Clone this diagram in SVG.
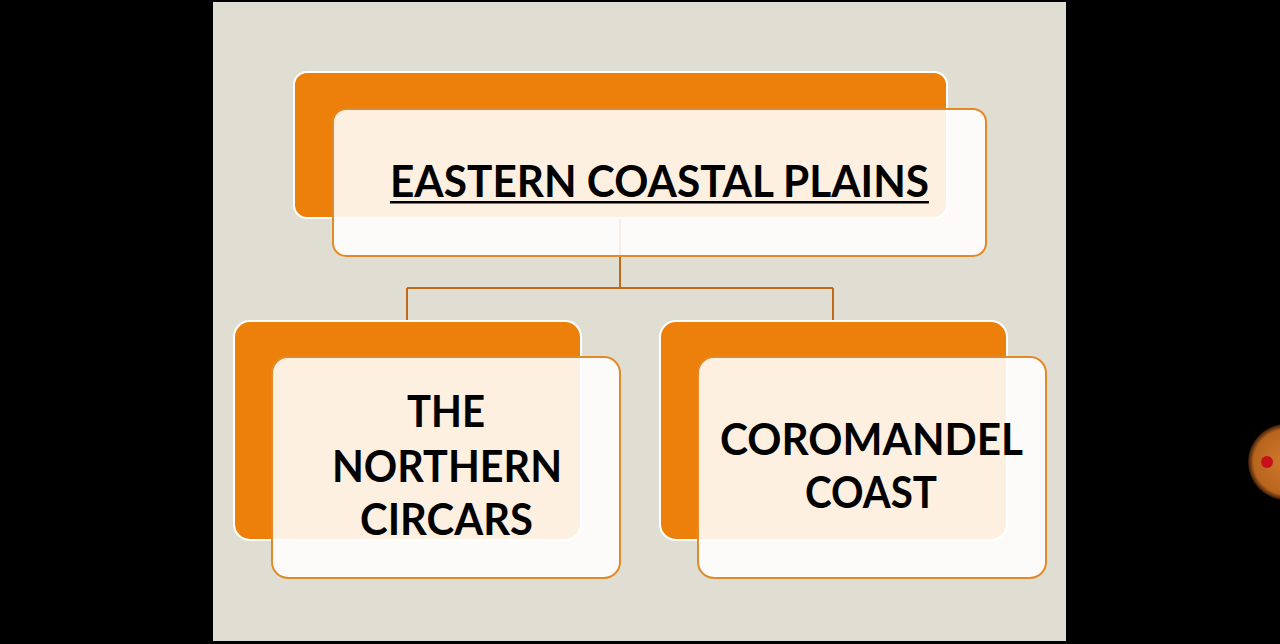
<svg xmlns="http://www.w3.org/2000/svg" width="1280" height="644" viewBox="0 0 1280 644">
<style>
.back{fill:#EC800A;stroke:#FFFFFF;stroke-width:2}
.front{fill:#FFFFFF;fill-opacity:0.88;stroke:#E08A2A;stroke-width:2}
.conn{fill:none;stroke:#C0691A;stroke-width:2}
.lbl{font-family:Lato,"Open Sans","Liberation Sans",sans-serif;font-weight:bold;font-size:43px;fill:#000;text-anchor:middle}
</style>
<defs>
<radialGradient id="dot" cx="0.5" cy="0.5" r="0.5">
<stop offset="0" stop-color="#D07A2C"/>
<stop offset="0.85" stop-color="#B8641E"/>
<stop offset="1" stop-color="#3A1A08"/>
</radialGradient>
</defs>
<rect x="0" y="0" width="1280" height="644" fill="#000"/>
<rect x="213" y="2" width="853" height="639" fill="#E0DED2"/>
<g id="connectors">
<path class="conn" d="M620 218 V288 M407 288 H833 M407 288 V321 M833 288 V321"/>
</g>
<g id="node-eastern">
<rect class="back" x="294" y="72" width="653" height="146" rx="13"/>
<rect class="front" x="333" y="109" width="653" height="147" rx="13"/>
<text class="lbl" x="659.5" y="197" textLength="539" lengthAdjust="spacingAndGlyphs">EASTERN COASTAL PLAINS</text>
<rect x="390" y="201" width="539" height="2.5" fill="#000"/>
</g>
<g id="node-northern">
<rect class="back" x="234" y="321" width="347" height="219" rx="16"/>
<rect class="front" x="272" y="357" width="348" height="221" rx="16"/>
<text class="lbl" x="446" y="427" textLength="78" lengthAdjust="spacingAndGlyphs">THE</text>
<text class="lbl" x="447" y="482" textLength="230" lengthAdjust="spacingAndGlyphs">NORTHERN</text>
<text class="lbl" x="446.5" y="535" textLength="173" lengthAdjust="spacingAndGlyphs">CIRCARS</text>
</g>
<g id="node-coromandel">
<rect class="back" x="660" y="321" width="347" height="219" rx="16"/>
<rect class="front" x="698" y="357" width="348" height="221" rx="16"/>
<text class="lbl" x="871.5" y="455" textLength="303" lengthAdjust="spacingAndGlyphs">COROMANDEL</text>
<text class="lbl" x="871" y="508" textLength="132" lengthAdjust="spacingAndGlyphs">COAST</text>
</g>
<circle cx="1286" cy="462" r="38" fill="url(#dot)"/>
<circle cx="1267" cy="462" r="6" fill="#C8101A"/>
</svg>
